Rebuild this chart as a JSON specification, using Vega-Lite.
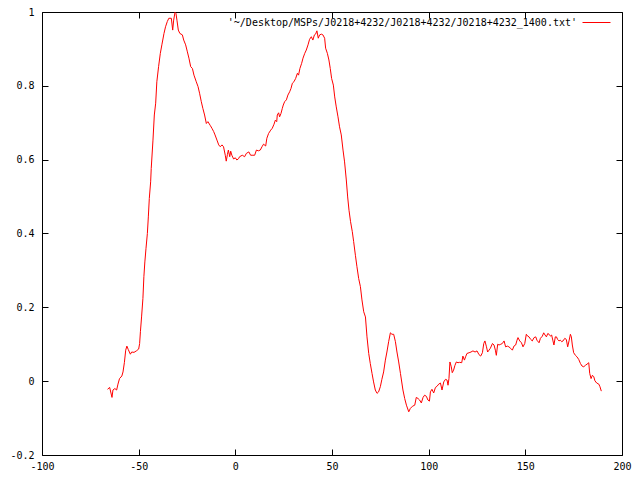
{
  "$schema": "https://vega.github.io/schema/vega-lite/v6.json",
  "width": 580,
  "height": 443,
  "autosize": "none",
  "padding": {"left": 42, "top": 12, "right": 18, "bottom": 25},
  "background": "white",
  "config": {
    "view": {"stroke": "black", "strokeWidth": 1},
    "axis": {"grid": false, "domain": false, "tickColor": "black", "tickSize": -6, "tickWidth": 1,
             "labelFont": "DejaVu Sans Mono", "labelFontSize": 10, "labelColor": "black", "title": null},
    "legend": {"labelFont": "DejaVu Sans Mono", "labelFontSize": 10, "labelColor": "black"}
  },
  "data": {"values": [
    {"x":-66.1,"y":-0.022},{"x":-65.0,"y":-0.017},{"x":-63.8,"y":-0.044},{"x":-63.3,"y":-0.024},{"x":-62.3,"y":-0.02},{"x":-61.4,"y":-0.024},{"x":-60.7,"y":-0.008},{"x":-59.9,"y":0.007},{"x":-58.7,"y":0.014},{"x":-58.1,"y":0.025},{"x":-57.4,"y":0.05},{"x":-56.7,"y":0.084},{"x":-56.1,"y":0.095},{"x":-55.4,"y":0.086},{"x":-54.3,"y":0.073},{"x":-53.6,"y":0.079},{"x":-52.4,"y":0.078},{"x":-51.2,"y":0.082},{"x":-50.0,"y":0.087},{"x":-49.5,"y":0.102},{"x":-49.1,"y":0.134},{"x":-48.5,"y":0.174},{"x":-47.8,"y":0.224},{"x":-47.3,"y":0.283},{"x":-46.8,"y":0.323},{"x":-46.2,"y":0.36},{"x":-45.5,"y":0.40},{"x":-45.0,"y":0.445},{"x":-44.5,"y":0.495},{"x":-43.8,"y":0.54},
    {"x":-43.5,"y":0.576},{"x":-42.6,"y":0.653},{"x":-41.9,"y":0.721},{"x":-41.2,"y":0.753},{"x":-40.6,"y":0.811},{"x":-39.7,"y":0.852},{"x":-38.8,"y":0.888},{"x":-38.0,"y":0.911},{"x":-36.9,"y":0.942},{"x":-36.1,"y":0.960},{"x":-35.2,"y":0.974},{"x":-34.4,"y":0.983},{"x":-33.1,"y":0.983},{"x":-32.4,"y":0.951},{"x":-31.9,"y":0.978},{"x":-31.2,"y":0.999},{"x":-30.7,"y":0.996},{"x":-30.2,"y":0.978},{"x":-29.5,"y":0.951},{"x":-28.7,"y":0.942},{"x":-27.4,"y":0.938},{"x":-26.7,"y":0.924},{"x":-25.7,"y":0.911},{"x":-24.8,"y":0.892},{"x":-24.0,"y":0.875},{"x":-23.1,"y":0.852},{"x":-22.2,"y":0.847},{"x":-21.4,"y":0.829},{"x":-20.2,"y":0.811},{"x":-19.3,"y":0.798},{"x":-18.5,"y":0.780},{"x":-17.6,"y":0.757},{"x":-16.8,"y":0.739},{"x":-15.9,"y":0.721},{"x":-15.0,"y":0.698},{"x":-14.2,"y":0.703},{"x":-12.9,"y":0.692},{"x":-12.1,"y":0.685},{"x":-11.2,"y":0.676},{"x":-10.5,"y":0.667},{"x":-9.5,"y":0.653},{"x":-8.6,"y":0.640},{"x":-7.8,"y":0.635},{"x":-6.9,"y":0.640},{"x":-6.1,"y":0.635},{"x":-5.2,"y":0.612},{"x":-4.7,"y":0.596},{"x":-4.1,"y":0.614},{"x":-3.6,"y":0.626},{"x":-2.9,"y":0.608},{"x":-2.4,"y":0.623},{"x":-1.8,"y":0.612},{"x":-0.9,"y":0.602},{"x":0.0,"y":0.605},{"x":0.8,"y":0.599},{"x":1.7,"y":0.603},
    {"x":2.2,"y":0.608},{"x":3.6,"y":0.612},{"x":4.8,"y":0.608},{"x":5.7,"y":0.617},{"x":7.0,"y":0.621},{"x":7.9,"y":0.612},{"x":9.1,"y":0.612},{"x":10.0,"y":0.612},{"x":10.9,"y":0.626},{"x":11.9,"y":0.624},{"x":12.9,"y":0.626},{"x":13.8,"y":0.635},{"x":14.6,"y":0.642},{"x":15.7,"y":0.637},{"x":16.3,"y":0.658},{"x":17.2,"y":0.671},{"x":18.3,"y":0.680},{"x":19.1,"y":0.685},{"x":20.0,"y":0.696},{"x":20.7,"y":0.707},{"x":21.4,"y":0.703},{"x":21.7,"y":0.721},{"x":22.4,"y":0.727},{"x":22.9,"y":0.716},{"x":23.6,"y":0.725},{"x":24.3,"y":0.739},{"x":24.8,"y":0.748},{"x":25.5,"y":0.757},{"x":26.4,"y":0.762},{"x":27.2,"y":0.775},{"x":28.1,"y":0.784},{"x":28.8,"y":0.793},{"x":29.5,"y":0.807},{"x":30.3,"y":0.811},{"x":31.2,"y":0.820},{"x":32.1,"y":0.834},{"x":32.7,"y":0.829},{"x":33.4,"y":0.847},{"x":34.3,"y":0.861},{"x":35.0,"y":0.875},{"x":35.9,"y":0.888},{"x":36.7,"y":0.897},{"x":37.6,"y":0.911},{"x":38.4,"y":0.926},{"x":39.3,"y":0.933},{"x":40.1,"y":0.924},{"x":40.9,"y":0.938},{"x":41.5,"y":0.940},{"x":42.2,"y":0.949},{"x":42.9,"y":0.929},{"x":43.6,"y":0.938},{"x":44.5,"y":0.940},{"x":45.3,"y":0.938},{"x":46.2,"y":0.929},{"x":46.7,"y":0.902},{"x":47.6,"y":0.888},{"x":48.4,"y":0.870},{"x":49.1,"y":0.847},{"x":49.8,"y":0.820},{"x":50.7,"y":0.802},{"x":51.4,"y":0.770},{"x":52.2,"y":0.743},{"x":53.1,"y":0.716},{"x":53.9,"y":0.689},{"x":54.8,"y":0.667},{"x":55.7,"y":0.626},{"x":56.5,"y":0.594},
    {"x":57.4,"y":0.545},{"x":58.1,"y":0.499},{"x":58.8,"y":0.463},{"x":59.6,"y":0.432},{"x":60.5,"y":0.405},{"x":61.2,"y":0.378},{"x":62.1,"y":0.341},{"x":62.9,"y":0.310},{"x":63.8,"y":0.278},{"x":64.7,"y":0.256},{"x":65.5,"y":0.220},{"x":66.4,"y":0.188},{"x":67.3,"y":0.174},{"x":68.1,"y":0.120},{"x":69.0,"y":0.075},{"x":69.8,"y":0.048},{"x":70.7,"y":0.021},{"x":71.5,"y":-0.002},{"x":72.4,"y":-0.024},{"x":73.3,"y":-0.033},{"x":74.1,"y":-0.029},{"x":75.0,"y":-0.015},{"x":75.8,"y":0.005},{"x":76.7,"y":0.025},{"x":77.6,"y":0.057},{"x":78.4,"y":0.079},{"x":79.3,"y":0.107},{"x":80.2,"y":0.131},{"x":81.0,"y":0.127},{"x":81.9,"y":0.127},{"x":82.8,"y":0.107},{"x":83.6,"y":0.079},{"x":84.5,"y":0.052},
    {"x":85.4,"y":0.021},{"x":86.7,"y":-0.024},{"x":87.6,"y":-0.047},{"x":88.5,"y":-0.065},{"x":89.7,"y":-0.083},{"x":90.5,"y":-0.074},{"x":91.6,"y":-0.068},{"x":92.8,"y":-0.065},{"x":93.6,"y":-0.044},{"x":94.5,"y":-0.047},{"x":95.3,"y":-0.051},{"x":96.2,"y":-0.059},{"x":97.1,"y":-0.044},{"x":97.9,"y":-0.038},{"x":98.8,"y":-0.041},{"x":99.6,"y":-0.051},{"x":100.4,"y":-0.054},{"x":100.9,"y":-0.029},{"x":101.7,"y":-0.022},{"x":102.6,"y":-0.032},{"x":103.5,"y":-0.017},{"x":104.3,"y":-0.014},{"x":105.2,"y":-0.008},{"x":106.1,"y":-0.005},{"x":106.9,"y":-0.024},{"x":107.8,"y":-0.002},{"x":108.7,"y":0.005},{"x":109.5,"y":0.003},{"x":110.0,"y":-0.011},{"x":110.5,"y":0.007},{"x":111.0,"y":0.052},{"x":111.7,"y":0.039},{"x":112.2,"y":0.023},{"x":112.9,"y":0.030},{"x":113.6,"y":0.043},{"x":114.3,"y":0.052},{"x":115.2,"y":0.050},{"x":116.0,"y":0.051},{"x":117.1,"y":0.050},{"x":117.7,"y":0.068},{"x":118.5,"y":0.057},{"x":119.1,"y":0.066},{"x":119.8,"y":0.075},{"x":120.9,"y":0.077},{"x":121.9,"y":0.079},{"x":122.9,"y":0.082},{"x":124.0,"y":0.079},{"x":125.0,"y":0.082},{"x":126.0,"y":0.072},{"x":126.9,"y":0.068},{"x":127.8,"y":0.077},{"x":128.5,"y":0.102},{"x":129.1,"y":0.109},{"x":129.9,"y":0.093},{"x":130.5,"y":0.079},{"x":131.2,"y":0.084},{"x":131.9,"y":0.089},{"x":133.0,"y":0.102},{"x":133.8,"y":0.098},{"x":134.5,"y":0.084},{"x":135.0,"y":0.070},{"x":135.7,"y":0.100},{"x":136.4,"y":0.098},{"x":137.3,"y":0.100},{"x":138.1,"y":0.102},{"x":139.0,"y":0.109},{"x":139.8,"y":0.093},{"x":140.7,"y":0.095},{"x":141.5,"y":0.093},{"x":142.4,"y":0.089},{"x":143.3,"y":0.084},{"x":144.1,"y":0.095},{"x":145.0,"y":0.098},{"x":145.7,"y":0.111},{"x":146.2,"y":0.118},{"x":147.1,"y":0.109},{"x":148.0,"y":0.104},{"x":148.8,"y":0.093},{"x":149.7,"y":0.102},{"x":150.5,"y":0.127},{"x":151.2,"y":0.122},{"x":151.9,"y":0.120},{"x":152.8,"y":0.113},{"x":153.6,"y":0.109},{"x":154.5,"y":0.118},{"x":155.4,"y":0.120},{"x":156.0,"y":0.111},{"x":157.1,"y":0.104},{"x":157.8,"y":0.116},{"x":158.8,"y":0.122},{"x":159.5,"y":0.131},{"x":160.2,"y":0.125},{"x":160.9,"y":0.120},{"x":161.6,"y":0.129},{"x":162.3,"y":0.127},{"x":163.0,"y":0.122},{"x":163.6,"y":0.125},{"x":164.3,"y":0.109},{"x":164.8,"y":0.098},{"x":165.5,"y":0.120},{"x":166.1,"y":0.120},{"x":166.7,"y":0.113},{"x":167.4,"y":0.109},{"x":168.1,"y":0.111},{"x":168.8,"y":0.107},{"x":169.5,"y":0.109},{"x":170.4,"y":0.116},{"x":171.2,"y":0.113},{"x":171.9,"y":0.093},{"x":172.6,"y":0.109},{"x":173.3,"y":0.127},{"x":173.8,"y":0.120},{"x":174.3,"y":0.098},{"x":175.0,"y":0.077},{"x":175.9,"y":0.070},{"x":176.7,"y":0.066},{"x":177.6,"y":0.059},{"x":178.5,"y":0.048},{"x":179.3,"y":0.041},{"x":180.2,"y":0.039},{"x":181.1,"y":0.043},{"x":181.9,"y":0.046},{"x":182.8,"y":0.050},{"x":183.3,"y":0.021},{"x":184.0,"y":0.007},{"x":184.7,"y":0.016},{"x":185.4,"y":0.012},{"x":186.0,"y":0.001},{"x":186.9,"y":-0.005},{"x":188.0,"y":-0.008},{"x":188.6,"y":-0.015},{"x":189.3,"y":-0.027}
  ]},
  "layer": [
    {
      "mark": {"type": "line", "strokeWidth": 1, "clip": true},
      "encoding": {
        "x": {"field": "x", "type": "quantitative", "scale": {"domain": [-100, 200], "nice": false, "zero": false},
              "axis": {"orient": "bottom", "values": [-100, -50, 0, 50, 100, 150, 200], "labelPadding": 12, "labelExpr": "'' + datum.value", "labelFlush": false}},
        "y": {"field": "y", "type": "quantitative", "scale": {"domain": [-0.2, 1], "nice": false, "zero": false},
              "axis": {"orient": "left", "values": [-0.2, 0, 0.2, 0.4, 0.6, 0.8, 1], "labelPadding": 14, "labelExpr": "'' + datum.value"}},
        "color": {"datum": "'~/Desktop/MSPs/J0218+4232/J0218+4232/J0218+4232_1400.txt'", "type": "nominal",
                  "scale": {"range": ["#ff0000"]},
                  "legend": {"title": null, "orient": "none", "legendX": 540, "legendY": -4, "padding": 0, "symbolType": "stroke", "symbolSize": 784, "symbolStrokeWidth": 1, "labelAlign": "right", "labelOffset": -34, "labelLimit": 700}}
      }
    },
    {
      "mark": {"type": "line", "strokeOpacity": 0},
      "encoding": {
        "x": {"field": "x", "type": "quantitative", "axis": {"orient": "top", "values": [-100, -50, 0, 50, 100, 150, 200], "labels": false}},
        "y": {"field": "y", "type": "quantitative", "axis": {"orient": "right", "values": [-0.2, 0, 0.2, 0.4, 0.6, 0.8, 1], "labels": false}}
      }
    }
  ],
  "resolve": {"axis": {"x": "independent", "y": "independent"}}
}
